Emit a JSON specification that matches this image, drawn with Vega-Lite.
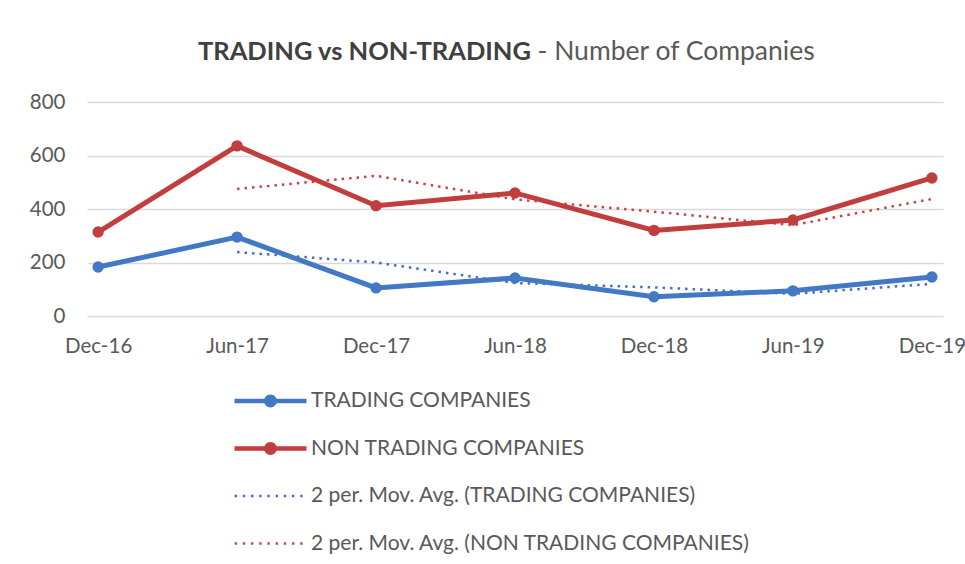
{
  "$schema": "https://vega.github.io/schema/vega-lite/v6.json",
  "width": 856,
  "height": 214,
  "autosize": {"type": "none"},
  "padding": {"left": 87, "top": 102, "right": 22, "bottom": 248},
  "background": "white",
  "config": {
    "font": "Lato",
    "view": {"stroke": null},
    "axis": {"labelFont": "Lato", "labelColor": "#595959", "labelFontSize": 20.5}
  },
  "title": {
    "text": "TRADING vs NON-TRADING",
    "anchor": "start",
    "align": "right",
    "frame": "group",
    "dx": 444,
    "offset": -39,
    "baseline": "middle",
    "font": "Lato",
    "fontSize": 25.5,
    "fontWeight": "bold",
    "color": "#404040"
  },
  "datasets": {
    "main": [
      {"date": "Dec-16", "series": "TRADING COMPANIES", "value": 183},
      {"date": "Jun-17", "series": "TRADING COMPANIES", "value": 295},
      {"date": "Dec-17", "series": "TRADING COMPANIES", "value": 105},
      {"date": "Jun-18", "series": "TRADING COMPANIES", "value": 142},
      {"date": "Dec-18", "series": "TRADING COMPANIES", "value": 72},
      {"date": "Jun-19", "series": "TRADING COMPANIES", "value": 94},
      {"date": "Dec-19", "series": "TRADING COMPANIES", "value": 146},
      {"date": "Dec-16", "series": "NON TRADING COMPANIES", "value": 314},
      {"date": "Jun-17", "series": "NON TRADING COMPANIES", "value": 636},
      {"date": "Dec-17", "series": "NON TRADING COMPANIES", "value": 412},
      {"date": "Jun-18", "series": "NON TRADING COMPANIES", "value": 460},
      {"date": "Dec-18", "series": "NON TRADING COMPANIES", "value": 320},
      {"date": "Jun-19", "series": "NON TRADING COMPANIES", "value": 359},
      {"date": "Dec-19", "series": "NON TRADING COMPANIES", "value": 516}
    ],
    "ma": [
      {"date": "Jun-17", "series": "2 per. Mov. Avg. (TRADING COMPANIES)", "value": 239},
      {"date": "Dec-17", "series": "2 per. Mov. Avg. (TRADING COMPANIES)", "value": 200},
      {"date": "Jun-18", "series": "2 per. Mov. Avg. (TRADING COMPANIES)", "value": 123.5},
      {"date": "Dec-18", "series": "2 per. Mov. Avg. (TRADING COMPANIES)", "value": 107},
      {"date": "Jun-19", "series": "2 per. Mov. Avg. (TRADING COMPANIES)", "value": 83},
      {"date": "Dec-19", "series": "2 per. Mov. Avg. (TRADING COMPANIES)", "value": 120},
      {"date": "Jun-17", "series": "2 per. Mov. Avg. (NON TRADING COMPANIES)", "value": 475},
      {"date": "Dec-17", "series": "2 per. Mov. Avg. (NON TRADING COMPANIES)", "value": 524},
      {"date": "Jun-18", "series": "2 per. Mov. Avg. (NON TRADING COMPANIES)", "value": 436},
      {"date": "Dec-18", "series": "2 per. Mov. Avg. (NON TRADING COMPANIES)", "value": 390},
      {"date": "Jun-19", "series": "2 per. Mov. Avg. (NON TRADING COMPANIES)", "value": 339.5},
      {"date": "Dec-19", "series": "2 per. Mov. Avg. (NON TRADING COMPANIES)", "value": 437.5}
    ]
  },
  "encoding": {
    "x": {
      "field": "date",
      "type": "ordinal",
      "sort": ["Dec-16", "Jun-17", "Dec-17", "Jun-18", "Dec-18", "Jun-19", "Dec-19"],
      "scale": {"type": "point", "padding": 0.08},
      "axis": {"title": null, "labelAngle": 0, "ticks": false, "domain": false, "grid": false, "labelPadding": 20}
    },
    "y": {
      "field": "value",
      "type": "quantitative",
      "scale": {"domain": [0, 800], "nice": false},
      "axis": {
        "values": [0, 200, 400, 600, 800],
        "ticks": false,
        "domain": false,
        "grid": true,
        "gridColor": "#d9d9d9",
        "gridWidth": 1.5,
        "labelPadding": 22,
        "title": "- Number of Companies",
        "titleAngle": 0,
        "titleAlign": "left",
        "titleBaseline": "middle",
        "titleX": 450,
        "titleY": -51,
        "titleFont": "Lato",
        "titleFontSize": 26.5,
        "titleFontWeight": "normal",
        "titleColor": "#595959"
      }
    },
    "color": {
      "field": "series",
      "type": "nominal",
      "scale": {
        "domain": ["TRADING COMPANIES", "NON TRADING COMPANIES", "2 per. Mov. Avg. (TRADING COMPANIES)", "2 per. Mov. Avg. (NON TRADING COMPANIES)"],
        "range": ["#4278c4", "#c23d3d", "#4a6cc0", "#c74646"]
      },
      "legend": {
        "title": null,
        "orient": "none",
        "legendX": 146,
        "legendY": 288.5,
        "direction": "vertical",
        "symbolSize": 324,
        "symbolStrokeWidth": 0,
        "labelOffset": 57,
        "labelFont": "Lato",
        "labelFontSize": 21,
        "labelColor": "#595959",
        "labelLimit": 600,
        "rowPadding": 25.5,
        "encode": {
          "symbols": {
            "update": {
              "shape": {"signal": "indexof(datum.value, 'Avg') >= 0 ? 'M-0.989,-0.133h0.267v0.267h-0.267Z M-0.077,-0.133h0.267v0.267h-0.267Z M0.834,-0.133h0.267v0.267h-0.267Z M1.745,-0.133h0.267v0.267h-0.267Z M2.656,-0.133h0.267v0.267h-0.267Z M3.567,-0.133h0.267v0.267h-0.267Z M4.478,-0.133h0.267v0.267h-0.267Z M5.389,-0.133h0.267v0.267h-0.267Z M6.3,-0.133h0.267v0.267h-0.267Z' : 'M-1,-0.25H7V0.25H-1Z M3.72,0A0.72,0.72,0,1,1,2.28,0A0.72,0.72,0,1,1,3.72,0Z'"},
              "fill": {"scale": "color", "field": "value"},
              "fillOpacity": {"value": 1},
              "strokeWidth": {"value": 0}
            }
          }
        }
      }
    }
  },
  "layer": [
    {
      "data": {"name": "ma"},
      "mark": {"type": "line", "strokeWidth": 2.5, "strokeDash": [2.5, 5], "strokeCap": "butt"}
    },
    {
      "data": {"name": "main"},
      "mark": {"type": "line", "strokeWidth": 5}
    },
    {
      "data": {"name": "main"},
      "mark": {"type": "point", "filled": true, "size": 130, "opacity": 1}
    }
  ]
}
